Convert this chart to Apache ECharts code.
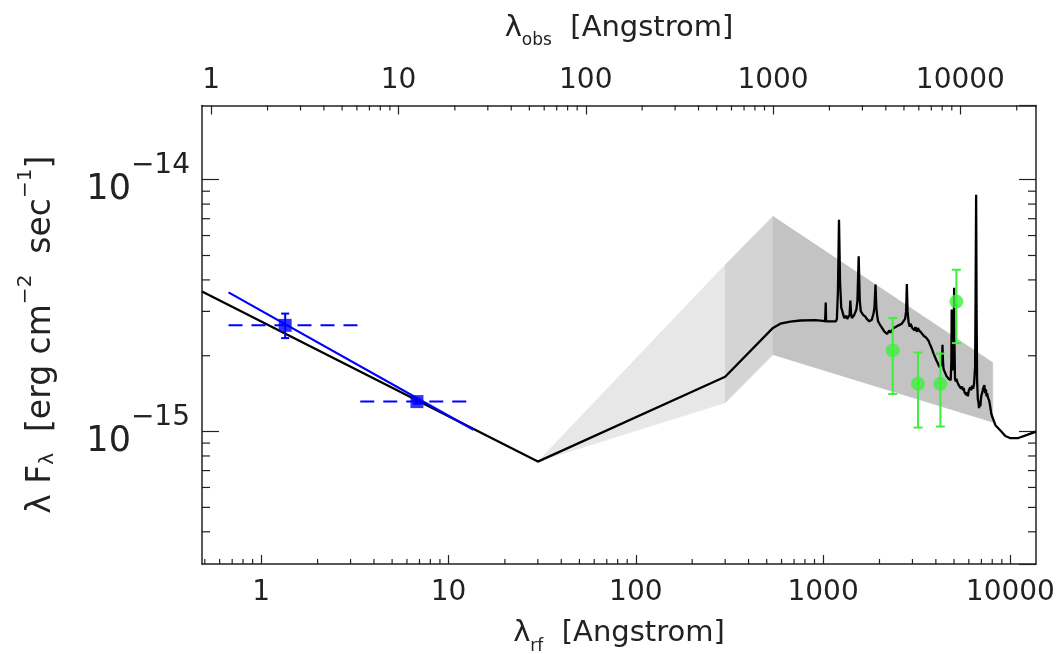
<!DOCTYPE html>
<html><head><meta charset="utf-8">
<script src="https://cdn.jsdelivr.net/npm/echarts/dist/echarts.min.js"></script>
<style>html,body{margin:0;padding:0;background:#fff}#chart{width:1063px;height:654px}</style>
</head><body><div id="chart"></div>
<script>
// ---- axis ranges ----
const xRestMin = 0.483, xRestMax = 13700;
const redshiftFactor = 1.85;            // lambda_obs / lambda_rf
const yMin = 2.98e-16, yMax = 1.97e-14;

// ---- tick values ----
const xRestMinorTicks = [0.5,0.6,0.7,0.8,0.9, 2,3,4,5,6,7,8,9, 20,30,40,50,60,70,80,90,
  200,300,400,500,600,700,800,900, 2000,3000,4000,5000,6000,7000,8000,9000];
const xObsMinorTicks = [2,3,4,5,6,7,8,9, 20,30,40,50,60,70,80,90, 200,300,400,500,600,700,800,900,
  2000,3000,4000,5000,6000,7000,8000,9000, 20000];
const yMinorTicks = [4e-16,5e-16,6e-16,7e-16,8e-16,9e-16, 2e-15,3e-15,4e-15,5e-15,6e-15,7e-15,8e-15,9e-15];

// ---- model / spectrum (black line), flux in units of 1e-15 ----
const contLambda = [0.483, 30, 300, 540, 591, 668, 756, 909, 1000, 1025, 1028, 1033, 1038, 1100, 1170, 1185, 1200, 1216, 1232, 1250,
  1262, 1280, 1300, 1315, 1330, 1345, 1369, 1385, 1398, 1410, 1425, 1445, 1465, 1486, 1505, 1525, 1549, 1570, 1590, 1601,
  1620, 1640, 1660, 1681, 1710, 1740, 1765, 1788, 1820, 1860, 1880, 1905, 1925, 1945, 1965, 1990, 2010, 2040, 2064, 2090,
  2120, 2150, 2194, 2225, 2260, 2290, 2334, 2370, 2400, 2440, 2483, 2530, 2580, 2630, 2693, 2740, 2775, 2800, 2825, 2860,
  2899, 2930, 2960, 3000, 3046, 3080, 3110, 3140, 3176, 3210, 3240, 3275, 3307, 3340, 3380, 3410, 3444, 3490, 3550, 3600,
  3663, 3700, 3740, 3780, 3819, 3860, 3900, 3940, 3977, 4020, 4080, 4130, 4194, 4250, 4290, 4320, 4340, 4360, 4390, 4420,
  4457, 4500, 4560, 4620, 4683, 4740, 4800, 4840, 4861, 4885, 4910, 4935, 4959, 4980, 5007, 5030, 5060, 5110, 5150, 5192,
  5250, 5300, 5350, 5408, 5460, 5520, 5580, 5630, 5690, 5750, 5810, 5870, 5930, 6000, 6060, 6114, 6180, 6250, 6320, 6400,
  6480, 6520, 6563, 6600, 6640, 6700, 6760, 6800, 6850, 6917, 6980, 7063, 7150, 7262, 7330, 7400, 7460, 7508, 7600, 7700,
  7800, 7900, 7984, 8318, 8844, 9400, 10000, 10940, 12280, 13700];
const contFlux15 = [3.60, 0.76, 1.65, 2.58, 2.68, 2.73, 2.76, 2.77, 2.75, 2.74, 2.74, 3.25, 2.74, 2.74, 2.74, 2.80, 3.6, 6.93, 3.9, 3.1,
  3.04, 2.92, 2.82, 2.78, 2.88, 2.80, 2.78, 2.90, 3.31, 2.95, 2.82, 2.78, 2.90, 2.95, 3.05, 3.30, 4.96, 3.30, 3.00, 2.95,
  3.00, 2.90, 2.93, 2.86, 2.80, 2.78, 2.74, 2.71, 2.78, 2.95, 3.10, 3.83, 3.10, 2.88, 2.74, 2.72, 2.66, 2.64, 2.58, 2.56,
  2.50, 2.47, 2.44, 2.48, 2.52, 2.47, 2.49, 2.57, 2.53, 2.60, 2.58, 2.64, 2.62, 2.68, 2.70, 2.80, 3.00, 3.85, 3.00, 2.72,
  2.61, 2.68, 2.64, 2.57, 2.60, 2.52, 2.60, 2.55, 2.49, 2.58, 2.53, 2.57, 2.50, 2.47, 2.45, 2.48, 2.40, 2.38, 2.36, 2.33,
  2.29, 2.24, 2.20, 2.16, 2.12, 2.07, 2.03, 2.00, 1.96, 1.92, 1.88, 1.84, 1.80, 1.82, 1.86, 2.00, 2.21, 1.95, 1.79, 1.75,
  1.72, 1.70, 1.66, 1.65, 1.62, 1.64, 1.60, 1.90, 3.05, 2.00, 1.75, 2.00, 2.70, 2.10, 3.72, 2.20, 1.62, 1.58, 1.62, 1.58,
  1.55, 1.57, 1.51, 1.53, 1.48, 1.51, 1.46, 1.49, 1.43, 1.45, 1.40, 1.43, 1.38, 1.46, 1.44, 1.50, 1.46, 1.52, 1.48, 1.55,
  1.80, 3.50, 8.72, 3.00, 1.60, 1.35, 1.30, 1.24, 1.30, 1.26, 1.38, 1.42, 1.48, 1.53, 1.42, 1.47, 1.38, 1.42, 1.36, 1.33,
  1.26, 1.18, 1.15, 1.06, 1.01, 0.96, 0.941, 0.941, 0.97, 1.0];
const fluxUnit = 1e-15;

// ---- shaded uncertainty bands ----
const bandA_lambda = [30, 300],   bandA_upper = [7.6e-16, 4.59e-15], bandA_lower = [7.6e-16, 1.30e-15];
const bandB_lambda = [300, 540],  bandB_upper = [4.59e-15, 7.15e-15], bandB_lower = [1.30e-15, 2.02e-15];
const bandC_lambda = [540, 8045], bandC_upper = [7.15e-15, 1.88e-15], bandC_lower = [2.02e-15, 1.09e-15];
const bandColors = ['#e7e7e7', '#d4d4d4', '#c3c3c3'];

// ---- X-ray points (blue) ----
const xrayLambda = [1.343, 6.785];
const xrayLambdaLo = [0.669, 3.38];
const xrayLambdaHi = [3.38, 13.6];
const xrayFlux = [2.64e-15, 1.315e-15];
const xrayFluxLo = [2.35e-15, 1.29e-15];
const xrayFluxHi = [2.94e-15, 1.34e-15];
const xraySlopeLambda = [0.669, 13.6];
const xraySlopeFlux = [3.57e-15, 1.016e-15];

// ---- optical photometry (green) ----
const optLambda = [2353, 3213, 4227, 5148];
const optFlux = [2.10e-15, 1.547e-15, 1.547e-15, 3.28e-15];
const optFluxLo = [1.41e-15, 1.037e-15, 1.047e-15, 2.245e-15];
const optFluxHi = [2.82e-15, 2.06e-15, 2.04e-15, 4.39e-15];

// ================= build =================
const FONT = 'DejaVu Sans';
const INK = '#222222';
const BLUE = '#0000ff';
const GREEN = '#3ef03e';

const bands = [
  [bandA_lambda, bandA_upper, bandA_lower],
  [bandB_lambda, bandB_upper, bandB_lower],
  [bandC_lambda, bandC_upper, bandC_lower]
];

function minorTicks(values, side, len, xIdx, yIdx) {
  const data = values.map(v => (side === 'bottom' || side === 'top') ? [v, 1e-15] : [1, v]);
  return {
    type: 'custom', xAxisIndex: xIdx, yAxisIndex: yIdx, silent: true, z: 5,
    data: data,
    renderItem: function (params, api) {
      const p = api.coord([api.value(0), api.value(1)]);
      const cs = params.coordSys;
      let s;
      if (side === 'bottom') s = {x1: p[0], y1: cs.y + cs.height, x2: p[0], y2: cs.y + cs.height - len};
      else if (side === 'top') s = {x1: p[0], y1: cs.y, x2: p[0], y2: cs.y + len};
      else if (side === 'left') s = {x1: cs.x, y1: p[1], x2: cs.x + len, y2: p[1]};
      else s = {x1: cs.x + cs.width, y1: p[1], x2: cs.x + cs.width - len, y2: p[1]};
      return {type: 'line', shape: s, style: {stroke: INK, lineWidth: 1.2}};
    }
  };
}

function errorBars(data, color, cap) {
  return {
    type: 'custom', silent: true, z: 8, xAxisIndex: 0, yAxisIndex: 0,
    data: data,
    renderItem: function (params, api) {
      const a = api.value(0), lo = api.value(1), hi = api.value(2);
      const p1 = api.coord([a, lo]), p2 = api.coord([a, hi]);
      const st = {stroke: color, lineWidth: 2};
      return {type: 'group', children: [
        {type: 'line', shape: {x1: p1[0], y1: p1[1], x2: p2[0], y2: p2[1]}, style: st},
        {type: 'line', shape: {x1: p1[0] - cap, y1: p1[1], x2: p1[0] + cap, y2: p1[1]}, style: st},
        {type: 'line', shape: {x1: p2[0] - cap, y1: p2[1], x2: p2[0] + cap, y2: p2[1]}, style: st}
      ]};
    }
  };
}

const nameRich = {
  n: {fontSize: 29, fontFamily: FONT, color: INK, lineHeight: 36, verticalAlign: 'top'},
  sub: {fontSize: 17, fontFamily: FONT, color: INK, lineHeight: 18, verticalAlign: 'bottom'}
};
const yNameRich = {
  n: {fontSize: 33, fontFamily: FONT, color: INK, lineHeight: 42, verticalAlign: 'bottom'},
  sub: {fontSize: 20, fontFamily: FONT, color: INK, lineHeight: 20, verticalAlign: 'bottom'},
  sup: {fontSize: 20, fontFamily: FONT, color: INK, lineHeight: 20, verticalAlign: 'top'}
};

const axisLineStyle = {color: INK, width: 1.5};

const option = {
  animation: false,
  backgroundColor: '#ffffff',
  grid: {left: 202, right: 27, top: 105.5, bottom: 90, containLabel: false, outerBoundsMode: 'none'},
  xAxis: [
    {
      type: 'log', position: 'bottom', min: xRestMin, max: xRestMax, logBase: 10,
      axisLine: {show: true, lineStyle: axisLineStyle},
      axisTick: {show: true, inside: true, length: 9, lineStyle: {color: INK, width: 1.2}},
      minorTick: {show: false}, splitLine: {show: false},
      axisLabel: {fontSize: 28, fontFamily: FONT, color: INK, margin: 15, showMinLabel: false, showMaxLabel: false,
        formatter: v => String(Math.round(v))},
      name: '{n|λ}{sub|rf}{n|  [Angstrom]}', nameLocation: 'middle', nameGap: 55,
      nameTextStyle: {rich: nameRich}
    },
    {
      type: 'log', position: 'top', min: xRestMin * redshiftFactor, max: xRestMax * redshiftFactor, logBase: 10,
      axisLine: {show: true, lineStyle: axisLineStyle},
      axisTick: {show: true, inside: true, length: 9, lineStyle: {color: INK, width: 1.2}},
      minorTick: {show: false}, splitLine: {show: false},
      axisLabel: {fontSize: 28, fontFamily: FONT, color: INK, margin: 11, showMinLabel: false, showMaxLabel: false,
        formatter: v => String(Math.round(v))},
      name: '{n|λ}{sub|obs}{n|  [Angstrom]}', nameLocation: 'middle', nameGap: 56,
      nameTextStyle: {rich: nameRich}
    }
  ],
  yAxis: [
    {
      type: 'log', position: 'left', min: yMin, max: yMax, logBase: 10,
      axisLine: {show: true, lineStyle: axisLineStyle},
      axisTick: {show: true, inside: true, length: 17, lineStyle: {color: INK, width: 1.2}},
      minorTick: {show: false}, splitLine: {show: false},
      axisLabel: {margin: 12, showMinLabel: false, showMaxLabel: false,
        formatter: v => '{b|10}{s|−' + Math.abs(Math.round(Math.log10(v))) + '}',
        rich: {
          b: {fontSize: 35, fontFamily: FONT, color: INK, lineHeight: 56, verticalAlign: 'bottom'},
          s: {fontSize: 28, fontFamily: FONT, color: INK, lineHeight: 28, verticalAlign: 'top'}
        }},
      name: '{n|λ F}{sub|λ}{n|  [erg cm}{sup|−2}{n|  sec}{sup|−1}{n|]}',
      nameLocation: 'middle', nameRotate: 90, nameGap: 144,
      nameTextStyle: {rich: yNameRich}
    },
    {
      type: 'log', position: 'right', min: yMin, max: yMax, logBase: 10,
      axisLine: {show: true, lineStyle: axisLineStyle},
      axisTick: {show: true, inside: true, length: 17, lineStyle: {color: INK, width: 1.2}},
      minorTick: {show: false}, splitLine: {show: false},
      axisLabel: {show: false}
    }
  ],
  series: [
    {
      type: 'custom', silent: true, z: 1, xAxisIndex: 0, yAxisIndex: 0,
      data: bands.map((b, i) => [b[0][0], b[1][0], i]),
      renderItem: function (params, api) {
        const b = bands[params.dataIndex];
        const pts = [];
        for (let k = 0; k < b[0].length; k++) pts.push(api.coord([b[0][k], b[1][k]]));
        for (let k = b[0].length - 1; k >= 0; k--) pts.push(api.coord([b[0][k], b[2][k]]));
        return {type: 'polygon', shape: {points: pts}, style: {fill: bandColors[params.dataIndex], stroke: bandColors[params.dataIndex], lineWidth: 0.5}};
      }
    },
    {
      type: 'line', xAxisIndex: 0, yAxisIndex: 0, z: 4, showSymbol: false, silent: true,
      data: contLambda.map((l, i) => [l, contFlux15[i] * fluxUnit]),
      lineStyle: {color: '#000000', width: 2.3}
    },
    {
      type: 'line', xAxisIndex: 0, yAxisIndex: 0, z: 6, showSymbol: false, silent: true,
      data: xraySlopeLambda.map((l, i) => [l, xraySlopeFlux[i]]),
      lineStyle: {color: BLUE, width: 2.2}
    },
    {
      type: 'line', xAxisIndex: 0, yAxisIndex: 0, z: 6, showSymbol: false, silent: true,
      data: [[xrayLambdaLo[0], xrayFlux[0]], [xrayLambdaHi[0], xrayFlux[0]]],
      lineStyle: {color: BLUE, width: 2, type: [14, 9]}
    },
    {
      type: 'line', xAxisIndex: 0, yAxisIndex: 0, z: 6, showSymbol: false, silent: true,
      data: [[xrayLambdaLo[1], xrayFlux[1]], [xrayLambdaHi[1], xrayFlux[1]]],
      lineStyle: {color: BLUE, width: 2, type: [14, 9]}
    },
    errorBars(xrayLambda.map((l, i) => [l, xrayFluxLo[i], xrayFluxHi[i]]), BLUE, 4),
    {
      type: 'scatter', xAxisIndex: 0, yAxisIndex: 0, z: 9, silent: true,
      symbol: 'rect', symbolSize: 13,
      data: xrayLambda.map((l, i) => [l, xrayFlux[i]]),
      itemStyle: {color: BLUE}
    },
    errorBars(optLambda.map((l, i) => [l, optFluxLo[i], optFluxHi[i]]), GREEN, 4.5),
    {
      type: 'scatter', xAxisIndex: 0, yAxisIndex: 0, z: 9, silent: true,
      symbol: 'circle', symbolSize: 14,
      data: optLambda.map((l, i) => [l, optFlux[i]]),
      itemStyle: {color: GREEN}
    },
    minorTicks(xRestMinorTicks, 'bottom', 5, 0, 0),
    minorTicks(xObsMinorTicks, 'top', 5, 1, 0),
    minorTicks(yMinorTicks, 'left', 8, 0, 0),
    minorTicks(yMinorTicks, 'right', 8, 0, 1)
  ]
};

const chart = echarts.init(document.getElementById('chart'), null, {renderer: 'canvas'});
chart.setOption(option);
</script></body></html>
